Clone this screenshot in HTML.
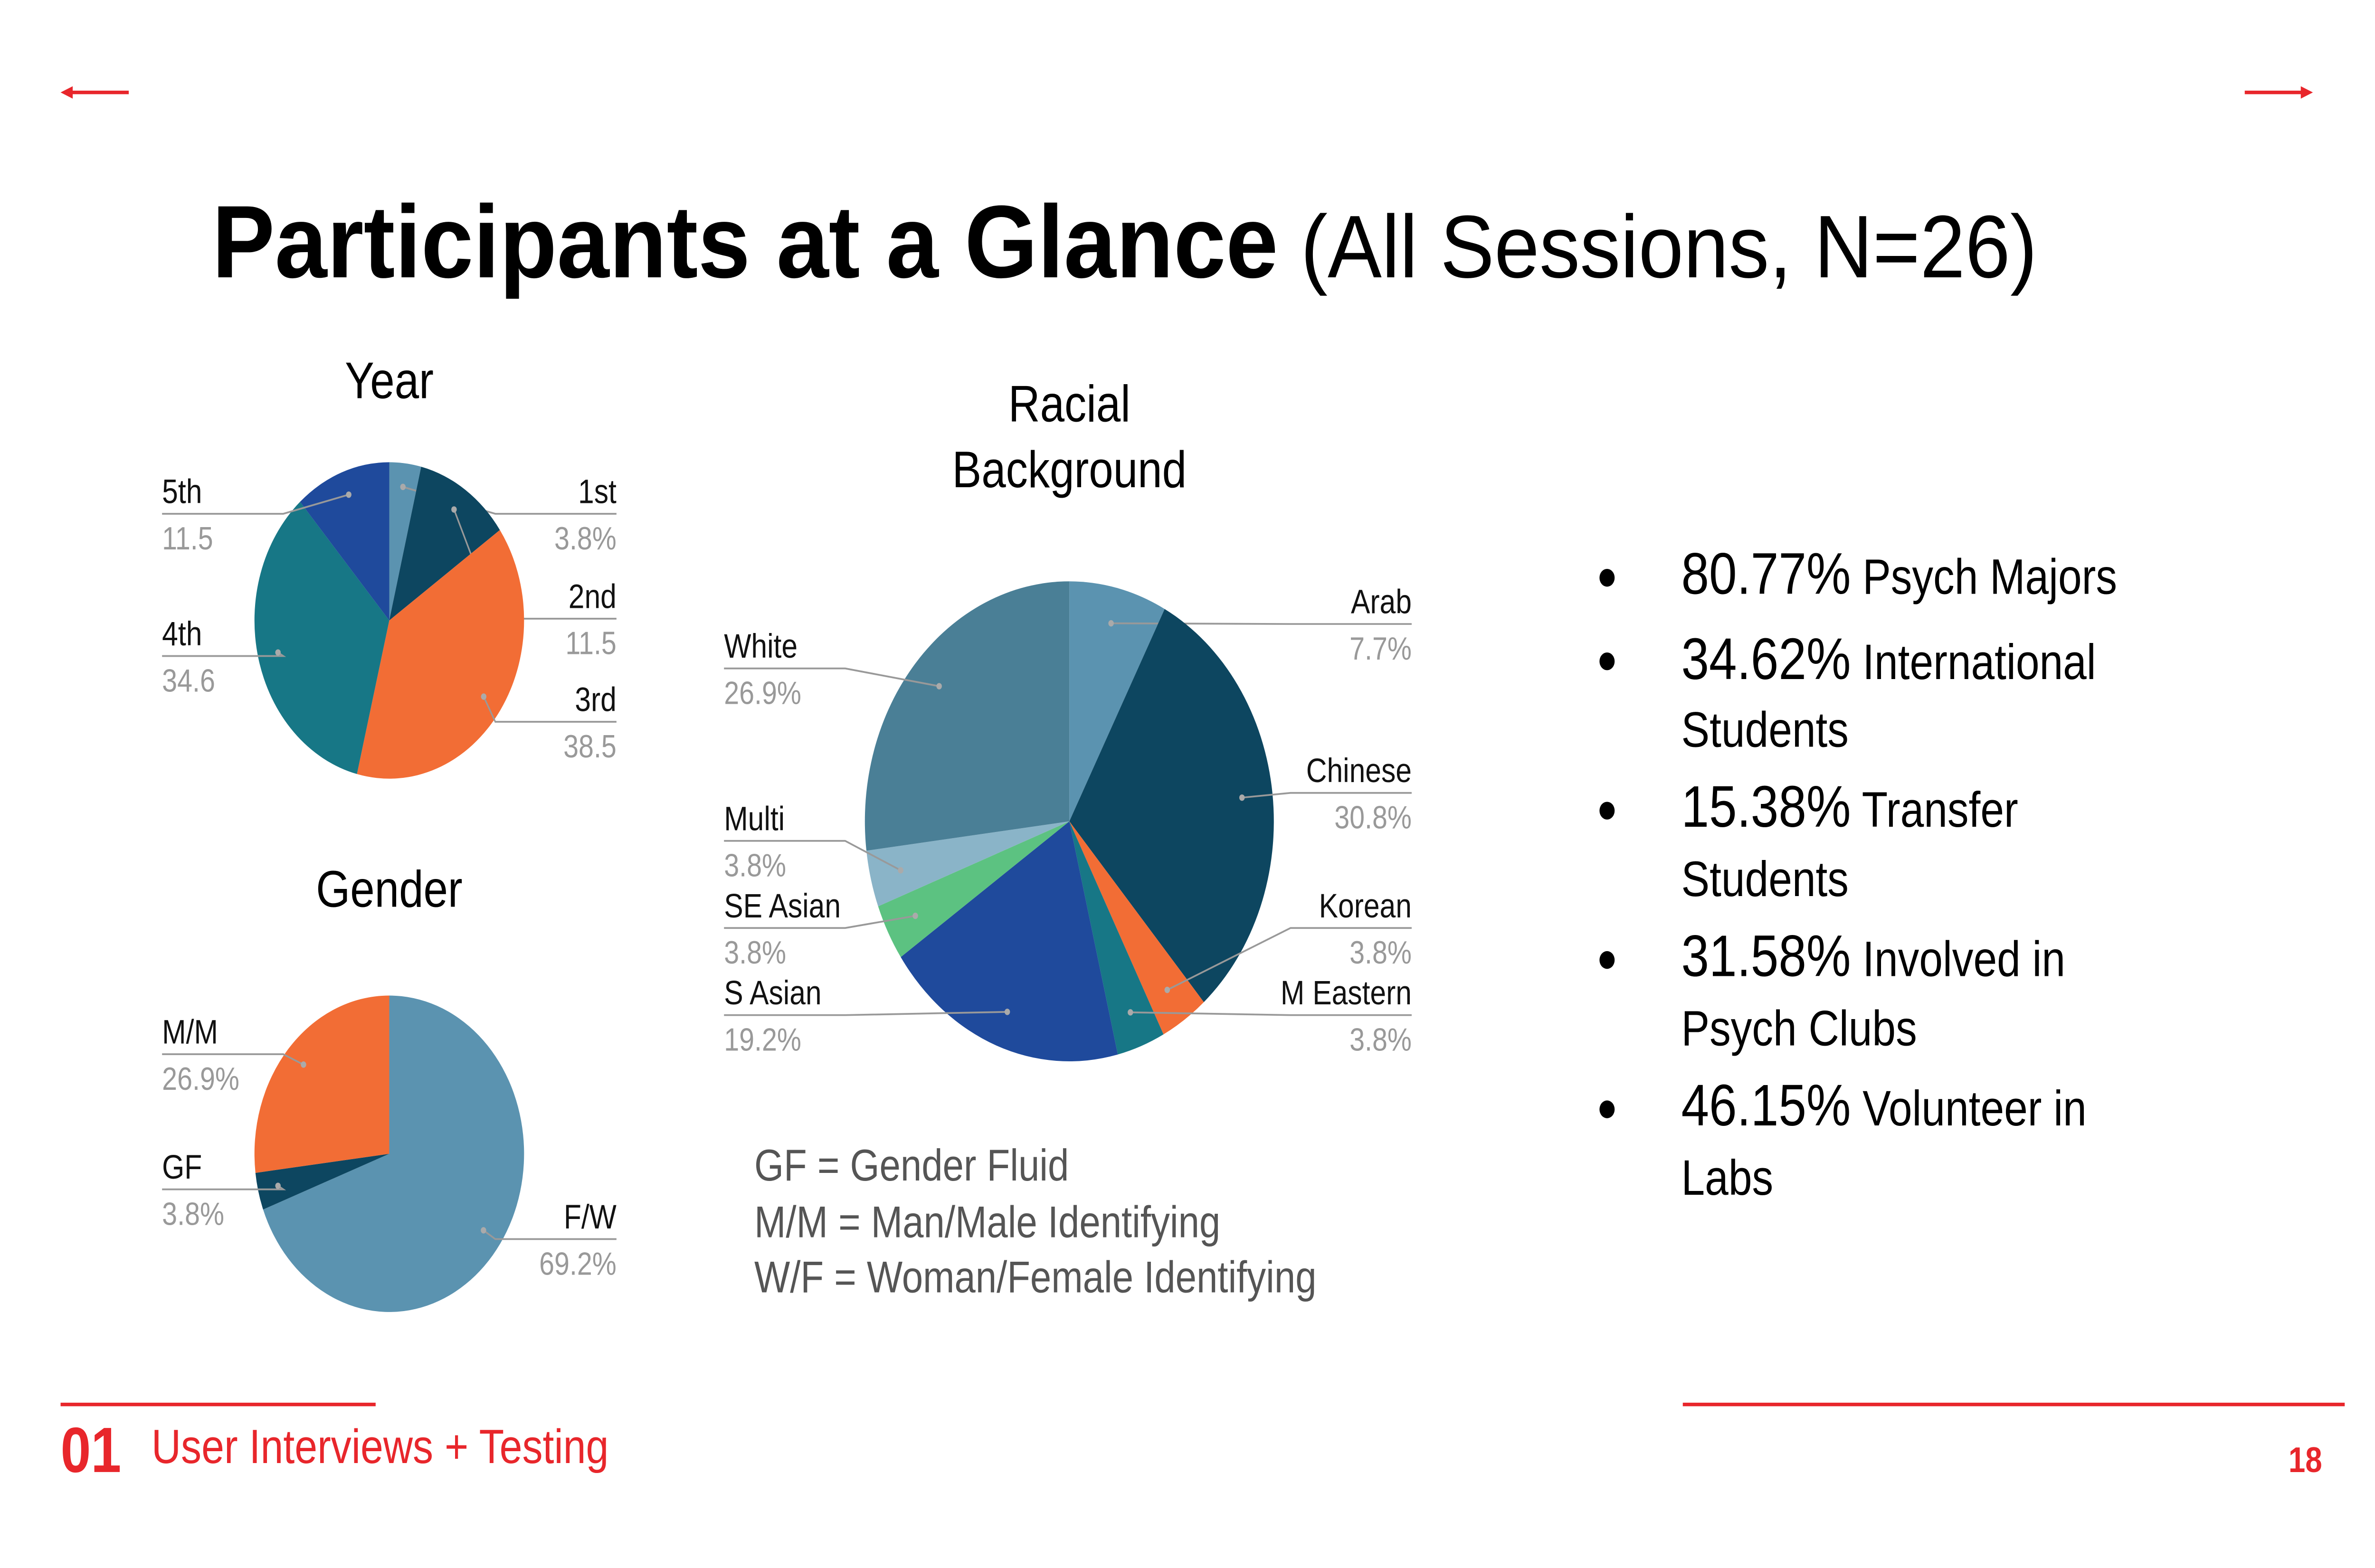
<!DOCTYPE html>
<html><head><meta charset="utf-8"><style>
html,body{margin:0;padding:0;background:#fff;overflow:hidden;width:100%;height:100%;}
svg{display:block;position:fixed;left:0;top:0;width:100vw;height:100vh;}
text{font-family:"Liberation Sans",sans-serif;}
</style></head><body>
<svg id="s" viewBox="0 0 1568 882" preserveAspectRatio="none" xmlns="http://www.w3.org/2000/svg">
<g><line x1="44" y1="52" x2="85" y2="52" stroke="#e8262b" stroke-width="2"/><path d="M40 52 L48 48.5 L48 55.5Z" fill="#e8262b"/></g>
<g><line x1="1482" y1="52" x2="1523" y2="52" stroke="#e8262b" stroke-width="2"/><path d="M1527 52 L1519 48.5 L1519 55.5Z" fill="#e8262b"/></g>
<text x="140" y="156" fill="#000" textLength="1205" lengthAdjust="spacingAndGlyphs"><tspan font-size="58" font-weight="bold">Participants at a Glance</tspan><tspan font-size="50"> (All Sessions, N=26)</tspan></text>
<text x="257" y="224" font-size="29" text-anchor="middle">Year</text>
<text x="257" y="510" font-size="29" text-anchor="middle">Gender</text>
<text x="706" y="237" font-size="29" text-anchor="middle">Racial</text>
<text x="706" y="274" font-size="29" text-anchor="middle">Background</text>
<g id="year"></g>
<g id="gender"></g>
<g id="race"></g>
<g font-size="25" fill="#555">
<text x="498" y="664">GF = Gender Fluid</text>
<text x="498" y="696">M/M = Man/Male Identifying</text>
<text x="498" y="727">W/F = Woman/Female Identifying</text>
</g>
<g font-size="28" fill="#000">
<circle cx="1061" cy="325" r="5"/><circle cx="1061" cy="372" r="5"/><circle cx="1061" cy="456" r="5"/><circle cx="1061" cy="540" r="5"/><circle cx="1061" cy="624" r="5"/>
<text x="1110" y="334"><tspan font-size="33">80.77%</tspan> Psych Majors</text>
<text x="1110" y="382"><tspan font-size="33">34.62%</tspan> International</text>
<text x="1110" y="420">Students</text>
<text x="1110" y="465"><tspan font-size="33">15.38%</tspan> Transfer</text>
<text x="1110" y="504">Students</text>
<text x="1110" y="549"><tspan font-size="33">31.58%</tspan> Involved in</text>
<text x="1110" y="588">Psych Clubs</text>
<text x="1110" y="633"><tspan font-size="33">46.15%</tspan> Volunteer in</text>
<text x="1110" y="672">Labs</text>
</g>
<line x1="40" y1="790" x2="248" y2="790" stroke="#e8262b" stroke-width="2"/>
<line x1="1111" y1="790" x2="1548" y2="790" stroke="#e8262b" stroke-width="2"/>
<text x="40" y="828" font-size="36" font-weight="bold" fill="#e8262b">01</text>
<text x="100" y="823" font-size="27" fill="#e8262b">User Interviews + Testing</text>
<text x="1522" y="828" font-size="20" font-weight="bold" fill="#e8262b" text-anchor="middle">18</text>
</svg>
<script>
const yearCats=["1st","2nd","3rd","4th","5th"];
const yearVals=[3.8,11.5,38.5,34.6,11.5];
const yearLabels=["3.8%","11.5","38.5","34.6","11.5"];
const genderCats=["F/W","GF","M/M"];
const genderVals=[69.2,3.8,26.9];
const genderLabels=["69.2%","3.8%","26.9%"];
const raceCats=["Arab","Chinese","Korean","M Eastern","S Asian","SE Asian","Multi","White"];
const raceVals=[7.7,30.8,3.8,3.8,19.2,3.8,3.8,26.9];
const raceLabels=["7.7%","30.8%","3.8%","3.8%","19.2%","3.8%","3.8%","26.9%"];
const NS="http://www.w3.org/2000/svg";
function mk(t,a,p){const e=document.createElementNS(NS,t);for(const k in a)e.setAttribute(k,a[k]);p.appendChild(e);return e;}
function pie(g,cx,cy,r,cats,vals,labels,colors,pos){
  const tot=vals.reduce((a,b)=>a+b,0);let a0=-Math.PI/2;
  cats.forEach((c,i)=>{
    const a1=a0+vals[i]/tot*2*Math.PI;
    const x0=cx+r*Math.cos(a0),y0=cy+r*Math.sin(a0),x1=cx+r*Math.cos(a1),y1=cy+r*Math.sin(a1);
    const p=mk("path",{d:`M${cx} ${cy} L${x0} ${y0} A${r} ${r} 0 ${a1-a0>Math.PI?1:0} 1 ${x1} ${y1}Z`,fill:colors[i]},g);
    
    
    const am=(a0+a1)/2,px=cx+r*0.85*Math.cos(am),py=cy+r*0.85*Math.sin(am);
    const L=pos[i];const right=L[0]=="r";const lx=L[1],ly=L[2];
    const ex=right?lx-80:lx+80;
    mk("polyline",{points:`${px},${py} ${ex},${ly} ${lx},${ly}`,fill:"none",stroke:"#999","stroke-width":1},g);
    mk("circle",{cx:px,cy:py,r:1.8,fill:"#aaa"},g);
    const t1=mk("text",{x:lx,y:ly-6,"font-size":19,fill:"#111","text-anchor":right?"end":"start"},g);t1.textContent=c;
    
    
    const t2=mk("text",{x:lx,y:ly+20,"font-size":18,fill:"#999","text-anchor":right?"end":"start"},g);t2.textContent=labels[i];
    
    
    a0=a1;
  });
}
pie(document.getElementById("year"),257,349,89,yearCats,yearVals,yearLabels,
 ["#5b93b0","#0d4660","#f26d35","#177786","#1f4a9c"],
 [["r",407,289],["r",407,348],["r",407,406],["l",107,369],["l",107,289]]);
pie(document.getElementById("gender"),257,649,89,genderCats,genderVals,genderLabels,
 ["#5b93b0","#0d4660","#f26d35"],
 [["r",407,697],["l",107,669],["l",107,593]]);
pie(document.getElementById("race"),706,462,135,raceCats,raceVals,raceLabels,
 ["#5b93b0","#0d4660","#f26d35","#177786","#1f4a9c","#5cc281","#8ab4c8","#4a7f96"],
 [["r",932,351],["r",932,446],["r",932,522],["r",932,571],["l",478,571],["l",478,522],["l",478,473],["l",478,376]]);
</script>
</body></html>
